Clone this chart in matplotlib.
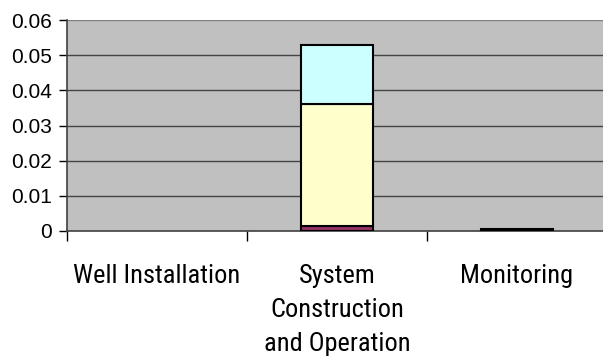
import matplotlib
matplotlib.use("Agg")
import matplotlib.pyplot as plt
from matplotlib import font_manager
import numpy as np

plt.rcParams['font.family'] = ['Liberation Sans', 'DejaVu Sans']
names = {f.name for f in font_manager.fontManager.ttflist}
cand = ['Arial Narrow', 'Liberation Sans Narrow', 'Roboto Condensed', 'Archivo Narrow',
        'PT Sans Narrow', 'Open Sans Condensed', 'Liberation Sans']
catfont = next(c for c in cand if c in names)

categories = ["Well Installation", "System\nConstruction\nand Operation", "Monitoring"]
series_black = [0.0, 0.0, 0.0005]
series_purple = [0.0, 0.0014, 0.0]
series_yellow = [0.0, 0.0347, 0.0]
series_cyan = [0.0, 0.0167, 0.0]
yticks = [0, 0.01, 0.02, 0.03, 0.04, 0.05, 0.06]
ytick_labels = ["0", "0.01", "0.02", "0.03", "0.04", "0.05", "0.06"]

fig = plt.figure(figsize=(6.03, 3.63), dpi=100)
ax = fig.add_axes([67/603, 1 - 231/363, 540/603, 211/363])
ax.set_facecolor('#C0C0C0')

# size the category font so "Well Installation" spans ~167 px
r = fig.canvas.get_renderer()
probe = fig.text(0, 0, categories[0], fontsize=20, family=[catfont, 'DejaVu Sans'])
pw = probe.get_window_extent(r).width
probe.remove()
catsize = 20 * 167.0 / pw

x = np.arange(len(categories))
w = 0.4
bottom = np.zeros(3)
for vals, col in [(series_black, '#000000'), (series_purple, '#993366'),
                  (series_yellow, '#FFFFCC'), (series_cyan, '#CCFFFF')]:
    v = np.array(vals)
    mask = v > 0
    ax.bar(x[mask], v[mask], w, bottom=bottom[mask], color=col,
           edgecolor='black', linewidth=1.5, zorder=3)
    bottom += v

ax.set_xlim(-0.5, 2.5)
ax.set_ylim(0, 0.06)
ax.set_yticks(yticks)
ax.set_yticklabels(ytick_labels, fontsize=15)
for yv in yticks[1:]:
    ax.axhline(yv, color='#444444' if yv < 0.06 else '#808080', linewidth=1.0, zorder=1)

ax.set_xticks([-0.5, 0.5, 1.5, 2.5], minor=False)
ax.set_xticklabels([])
ax.set_xticks(x, minor=True)
ax.set_xticklabels(categories, minor=True, fontsize=catsize, linespacing=1.51, va='top',
                   family=[catfont, 'DejaVu Sans'])
ax.tick_params(axis='x', which='minor', length=0, pad=24)
ax.tick_params(axis='x', which='major', length=7, direction='out', width=1)
ax.tick_params(axis='y', length=6, direction='out', width=1, pad=5)

for s in ['top', 'right']:
    ax.spines[s].set_visible(False)
ax.spines['left'].set_color('#404040')
ax.spines['bottom'].set_color('#404040')
ax.spines['left'].set_linewidth(1.2)
ax.spines['bottom'].set_linewidth(1.2)

fig.savefig('out.png', dpi=100)
